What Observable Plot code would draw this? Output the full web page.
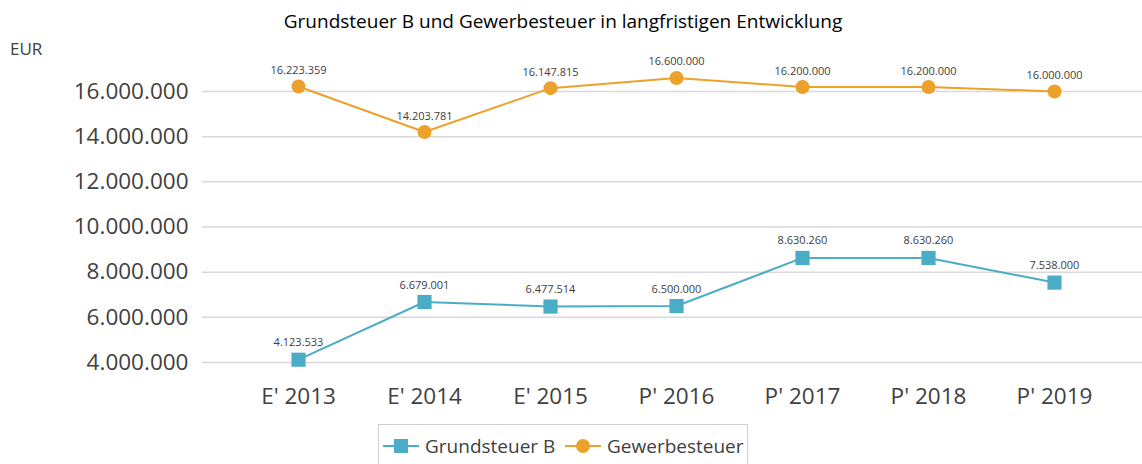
<!DOCTYPE html>
<html>
<head>
<meta charset="utf-8">
<script src="https://cdn.jsdelivr.net/npm/d3@7"></script>
<script src="https://cdn.jsdelivr.net/npm/@observablehq/plot@0.6"></script>
<style>
  html, body { margin: 0; padding: 0; background: #fff; }
  body { width: 1142px; height: 464px; overflow: hidden; position: relative; font-family: "Open Sans", "Noto Sans", sans-serif; }
  #title { position: absolute; left: 0; top: 8px; width: 1126px; text-align: center; font-size: 19px; color: #000; }
  #unit { position: absolute; left: 10px; top: 37px; font-size: 17px; color: #404040; }
  #chart { position: absolute; left: 0; top: 40px; }
  #legend { position: absolute; left: 378px; top: 424px; width: 370px; height: 50px; border: 1px solid #d0d0d0; box-sizing: border-box; }
  .item { position: absolute; top: 8px; font-size: 19px; color: #404040; display: flex; align-items: center; }
  .item svg { margin-right: 6px; }
</style>
</head>
<body>
<div id="title">Grundsteuer B und Gewerbesteuer in langfristigen Entwicklung</div>
<div id="chart"></div>
<div id="unit">EUR</div>
<div id="legend">
  <div class="item" style="left:4px"><svg width="36" height="16"><line x1="0" y1="8" x2="36" y2="8" stroke="#4bacc6" stroke-width="2"/><rect x="11" y="1" width="14" height="14" fill="#4bacc6"/></svg>Grundsteuer B</div>
  <div class="item" style="left:186px"><svg width="36" height="16"><line x1="0" y1="8" x2="36" y2="8" stroke="#eba12a" stroke-width="2"/><circle cx="18" cy="8" r="7" fill="#eba12a"/></svg>Gewerbesteuer</div>
</div>
<script>
const categories = ["E' 2013", "E' 2014", "E' 2015", "P' 2016", "P' 2017", "P' 2018", "P' 2019"];
const grundsteuerB = [4123533, 6679001, 6477514, 6500000, 8630260, 8630260, 7538000];
const gewerbesteuer = [16223359, 14203781, 16147815, 16600000, 16200000, 16200000, 16000000];
const yTicks = [4000000, 6000000, 8000000, 10000000, 12000000, 14000000, 16000000];

const fmt = v => d3.format(",")(v).replace(/,/g, ".");
const gb = categories.map((c, i) => ({cat: c, v: grundsteuerB[i]}));
const gw = categories.map((c, i) => ({cat: c, v: gewerbesteuer[i]}));

const teal = "#4bacc6", orange = "#eba12a";

const chart = Plot.plot({
  width: 1142,
  height: 380,
  marginLeft: 202,
  marginRight: 0,
  marginTop: 0,
  marginBottom: 0,
  style: {fontFamily: "'Open Sans', 'Noto Sans', sans-serif", background: "transparent"},
  x: {type: "point", domain: categories, range: [297, 1055], padding: 0, label: null},
  y: {domain: [4000000, 16000000], range: [322, 51], label: null},
  marks: [
    Plot.ruleY(yTicks, {stroke: "#d9d9d9", strokeWidth: 1.5}),
    Plot.axisY(yTicks, {tickSize: 0, tickPadding: 14, tickFormat: fmt, fontSize: 22.5, fill: "#404040", label: null}),
    Plot.axisX({tickSize: 0, tickPadding: 0, fontSize: 22.5, fill: "#404040", dy: -32, label: null}),
    Plot.line(gb, {x: "cat", y: "v", stroke: teal, strokeWidth: 2}),
    Plot.dot(gb, {x: "cat", y: "v", symbol: "square", r: 8, fill: teal}),
    Plot.text(gb, {x: "cat", y: "v", text: d => fmt(d.v), dy: -17, fontSize: 11, fill: "#404040"}),
    Plot.line(gw, {x: "cat", y: "v", stroke: orange, strokeWidth: 2}),
    Plot.dot(gw, {x: "cat", y: "v", r: 7, fill: orange}),
    Plot.text(gw, {x: "cat", y: "v", text: d => fmt(d.v), dy: -16, fontSize: 11, fill: "#404040"})
  ]
});
document.getElementById("chart").appendChild(chart);
</script>
</body>
</html>
